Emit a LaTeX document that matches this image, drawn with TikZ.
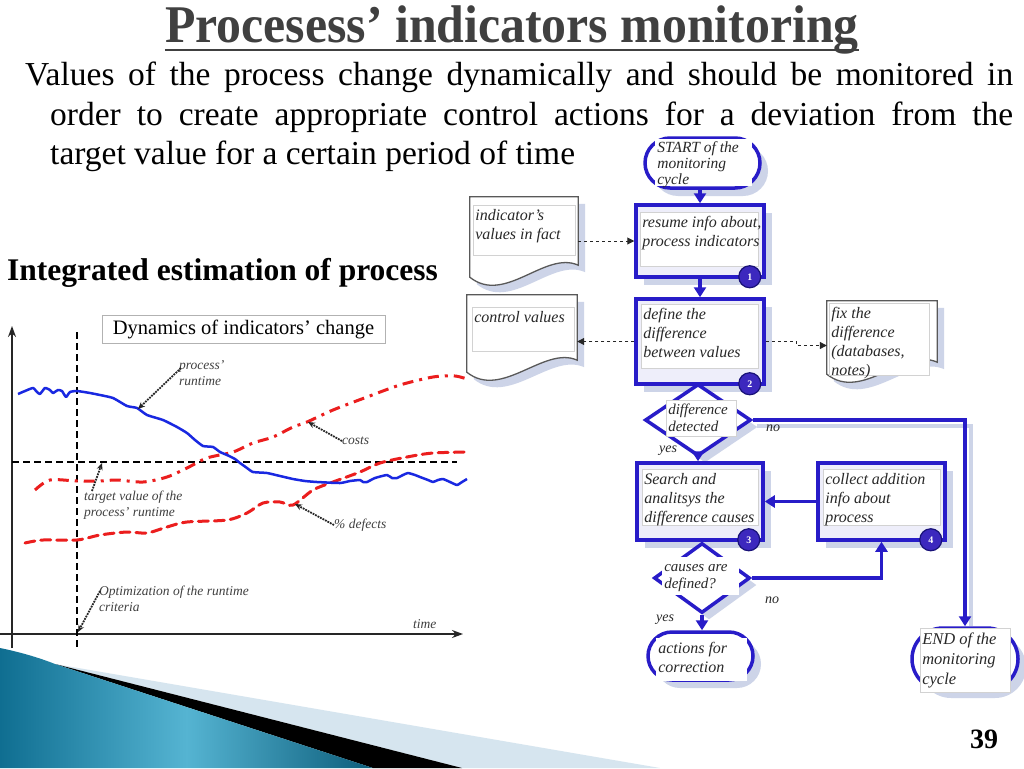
\documentclass[tikz,border=0pt]{standalone}
\usepackage{fontspec}
\setmainfont{Liberation Serif}
\usetikzlibrary{arrows.meta,calc,shapes.geometric,shapes.misc,shadows}
\definecolor{fblue}{RGB}{40,28,200}
\definecolor{shc}{RGB}{205,212,232}
\definecolor{lav}{RGB}{238,238,250}
\definecolor{ftext}{RGB}{40,40,40}
\definecolor{cblue}{RGB}{25,40,225}
\definecolor{cred}{RGB}{235,30,30}
\definecolor{teal1}{RGB}{15,110,145}
\definecolor{teal2}{RGB}{85,180,210}
\definecolor{lband}{RGB}{214,229,239}
\definecolor{titlegray}{RGB}{64,64,64}
\definecolor{badgeblue}{RGB}{60,40,190}
\newcommand\boxtxt[3]{\parbox[t][#2][t]{#1}{\begin{tabular}[t]{@{}l@{}}#3\end{tabular}}}
\newcommand\docshape[1]{%
 \fill[shc] ($(#1.north west)+(7,7)$) -- ($(#1.north east)+(7,7)$) -- ($(#1.south east)+(7,-5)$) .. controls ($(#1.south east)+(-26,-20)$) and ($(#1.south west)+(42,35)$) .. ($(#1.south west)+(7,7)$) -- cycle;
 \draw[docline] (#1.north west) -- (#1.north east) -- ($(#1.south east)+(0,-12)$) .. controls ($(#1.south east)+(-33,-27)$) and ($(#1.south west)+(35,28)$) .. (#1.south west) -- cycle;}
\begin{document}
\begin{tikzpicture}[x=1pt,y=-1pt,
  procbox/.style={draw=fblue, line width=3.5pt, fill=lav, inner sep=0,
     general shadow={fill=shc, draw=none, shadow xshift=8pt, shadow yshift=-8pt}},
  termbox/.style={rounded rectangle, draw=fblue, line width=3.5pt, fill=white, inner sep=0,
     general shadow={fill=shc, draw=none, shadow xshift=8pt, shadow yshift=-8pt}},
  decbox/.style={diamond, draw=fblue, line width=3.5pt, fill=white, inner sep=0,
     general shadow={fill=shc, draw=none, shadow xshift=7pt, shadow yshift=-7pt}},
  intext/.style={fill=white, draw=gray!35, line width=0.6pt, anchor=north west, inner sep=2pt,
     text=ftext, font=\fontsize{16}{19}\selectfont\itshape},
  docbox/.style={inner sep=0, draw=none},
  docline/.style={draw=gray!70!black, line width=1.3pt, fill=white},
  badge/.style={shape=circle, inner sep=0pt, minimum width=22pt, minimum height=22pt,
     fill=badgeblue, draw=fblue!60!black, line width=1.2pt,
     text=white, font=\fontsize{10}{10}\selectfont\bfseries},
  farrow/.style={draw=fblue, line width=3.5pt, -{Triangle[length=10pt,width=12pt]}},
  dasharrow/.style={draw=black!85, line width=1pt, dashed, -{Triangle[length=7pt,width=7pt]}},
  flab/.style={font=\fontsize{14}{16}\selectfont\itshape, text=ftext, inner sep=0},
  clab/.style={font=\fontsize{13.5}{16}\selectfont\itshape, text=black!75, inner sep=0, align=left},
  dotarrow/.style={densely dotted, line width=1.8pt, draw=black!85, -{Stealth[length=7pt,width=6pt]}},
  axisline/.style={line width=1.5pt, draw=black!85, -{Stealth[length=11pt,width=8pt]}},
  guide/.style={line width=1.3pt, draw=black, dash pattern=on 7pt off 4pt}
]
\useasboundingbox (0,0) rectangle (1024,768);
\fill[white] (0,0) rectangle (1024,768);

% ---------- title and text ----------
\node[anchor=base, inner sep=0, text=titlegray, font=\fontsize{53}{56}\selectfont\bfseries] (title) at (512,43)
  {\scalebox{0.94}[1]{Procesess’ indicators monitoring}};
\draw[titlegray, line width=2.5pt] ($(title.base west)+(0,7)$) -- ($(title.base east)+(0,7)$);
\node[anchor=base west, inner sep=0, font=\fontsize{33.5}{40}\selectfont] (l1) at (25,85)
  {\makebox[988pt][s]{Values of the process change dynamically and should be monitored in}};
\node[anchor=base west, inner sep=0, font=\fontsize{33.5}{40}\selectfont] (l2) at (50,125)
  {\makebox[963pt][s]{order to create appropriate control actions for a deviation from the}};
\node[anchor=base west, inner sep=0, font=\fontsize{33.5}{40}\selectfont] (l3) at (50,164)
  {target value for a certain period of time};
\node[anchor=base west, inner sep=0, font=\fontsize{31.5}{34}\selectfont\bfseries] (integ) at (7,280)
  {Integrated estimation of process};
\node[anchor=base, inner sep=0, font=\fontsize{28}{30}\selectfont\bfseries] (pagenum) at (984,748) {39};

% ---------- chart ----------
\node[draw=gray!60, line width=0.8pt, fill=white, minimum width=283pt, minimum height=28pt, inner sep=0,
      font=\fontsize{20.5}{22}\selectfont] (dyn) at (243.5,329) {Dynamics of indicators' change};
\coordinate (yb) at (12,648); \coordinate (yt) at (12,326);
\coordinate (xl) at (0,634);  \coordinate (xr) at (463,634);
\draw[axisline] (yb) -- (yt);
\draw[axisline] (xl) -- (xr);
\coordinate (vt) at (77,332); \coordinate (vb) at (77,648);
\draw[guide] (vt) -- (vb);
\coordinate (hl) at (12,462); \coordinate (hr) at (457,462);
\draw[guide] (hl) -- (hr);

\draw[cred, line width=3pt, dash pattern=on 10pt off 6pt, line cap=round] plot[smooth, tension=0.5] coordinates
 {(25,543) (43,540) (77,540) (100,535) (127,532) (147,533) (167,527) (187,522) (227,520) (247,513) (263,503) (280,502) (293,505) (313,490) (333,482) (360,472) (380,463) (407,457) (433,453) (470,452)};
\draw[cred, line width=3pt, dash pattern=on 11pt off 6pt on 3pt off 6pt] plot[smooth, tension=0.5] coordinates
 {(35,490) (50,480) (77,481) (100,481) (117,480) (143,482) (167,477) (187,468) (207,458) (233,452) (253,443) (273,437) (293,427) (307,422) (333,410) (367,397) (400,385) (433,377) (455,376) (470,380)};
\draw[cblue, line width=2.5pt, line join=round] plot[smooth, tension=0.3] coordinates
 {(18,394) (25,391) (33,388) (37,392) (40,394) (45,388) (50,390) (53,393) (58,390) (62,391) (66,397) (70,392) (77,391) (90,393) (100,395) (113,398) (127,406) (137,408) (147,415) (163,420) (177,427) (187,433) (195,440) (203,446) (213,447) (220,452) (227,455) (235,459) (240,463) (247,468) (253,472) (267,473) (280,476) (293,479) (305,481) (317,482) (340,483) (350,481) (360,480) (363,482) (367,482) (375,478) (387,475) (392,478) (397,478) (403,475) (408,473) (415,475) (420,477) (428,480) (433,482) (438,480) (443,479) (450,482) (457,485) (462,482) (467,479)};

\node[clab, anchor=north west] (lp) at (179,360) {process'\\runtime};
\coordinate (pr) at (138,409);
\draw[dotarrow] ($(lp.north west)+(2,8)$) -- (pr);
\node[clab, anchor=west] (lc) at (342,441) {costs};
\coordinate (pc) at (308,422);
\draw[dotarrow] (lc.west) -- (pc);
\node[clab, anchor=north west] (lt) at (84,491) {target value of the\\process' runtime};
\coordinate (pt) at (102,463);
\draw[dotarrow] ($(lt.north west)+(8,0)$) -- (pt);
\node[clab, anchor=west] (ld) at (334,525) {\% defects};
\coordinate (pd) at (295,504);
\draw[dotarrow] (ld.west) -- (pd);
\node[clab, anchor=north west] (lo) at (99,586) {Optimization of the runtime\\criteria};
\coordinate (po) at (78,632);
\draw[dotarrow] ($(lo.north west)+(1,5)$) -- (po);
\node[clab, anchor=base west] (ltime) at (413,628) {time};

% ---------- flowchart ----------
\node[termbox, minimum width=115pt, minimum height=50pt] (start) at (702.5,163) {};
\node[intext, font=\fontsize{15.5}{16}\selectfont\itshape, draw=white] (st) at (655,139) {\boxtxt{92pt}{42pt}{START of the\\monitoring\\cycle}};

\node[procbox, minimum width=128pt, minimum height=72pt] (b1) at (700,241) {};
\node[intext] (t1) at (640,212) {\boxtxt{114pt}{50pt}{resume info about,\\process indicators}};
\node[badge] (n1) at ($(b1.south east)+(-16,-2)$) {1};

\node[procbox, minimum width=128pt, minimum height=85pt] (b2) at (700,341.5) {};
\node[intext] (t2) at (641,304) {\boxtxt{113pt}{60pt}{define the\\difference\\between values}};
\node[badge] (n2) at ($(b2.south east)+(-16,-2)$) {2};

\node[decbox, minimum width=106pt, minimum height=72pt] (d1) at (698,420) {};
\node[intext, font=\fontsize{15}{17}\selectfont\itshape] (td1) at (666,400) {\boxtxt{66pt}{32pt}{difference\\detected}};

\node[procbox, minimum width=126pt, minimum height=77pt] (b3) at (700,501.5) {};
\node[intext] (t3) at (642,469) {\boxtxt{112pt}{52pt}{Search and\\analitsys the\\difference causes}};
\node[badge] (n3) at ($(b3.south east)+(-16,-2)$) {3};

\node[procbox, minimum width=127pt, minimum height=77pt] (b4) at (881.5,501.5) {};
\node[intext] (t4) at (823,469) {\boxtxt{113pt}{52pt}{collect addition\\info about\\process}};
\node[badge] (n4) at ($(b4.south east)+(-16,-2)$) {4};

\node[decbox, minimum width=96pt, minimum height=70pt] (d2) at (702,578) {};
\node[intext, font=\fontsize{15}{17}\selectfont\itshape, draw=white] (td2) at (662,557) {\boxtxt{72pt}{33pt}{causes are\\defined?}};

\node[termbox, minimum width=105pt, minimum height=48pt] (act) at (700.5,656) {};
\node[intext, draw=white] (ta) at (656,638) {\boxtxt{86pt}{38pt}{actions for\\correction}};

\node[termbox, minimum width=106pt, minimum height=62pt] (endt) at (965,659) {};
\node[intext, font=\fontsize{16.5}{20}\selectfont\itshape] (te) at (920,628) {\boxtxt{86pt}{60pt}{END of the\\monitoring\\cycle}};

% documents
\node[docbox, minimum width=108pt, minimum height=80pt] (doc1) at (524,237) {};
\docshape{doc1}
\node[intext] (dt1) at (473,205) {\boxtxt{98pt}{46pt}{indicator's\\values in fact}};
\node[docbox, minimum width=110pt, minimum height=77pt] (doc2) at (522,333.5) {};
\docshape{doc2}
\node[intext] (dt2) at (472,307) {\boxtxt{98pt}{40pt}{control values}};
\node[docbox, minimum width=110pt, minimum height=73pt] (doc3) at (882,337.5) {};
\docshape{doc3}
\node[intext] (dt3) at (829,303) {\boxtxt{96pt}{68pt}{fix the\\difference\\(databases,\\notes)}};

% connectors
\draw[farrow] (start.south -| b1.north) -- (b1.north);
\draw[farrow] (b1.south) -- (b2.north);
\draw[farrow] (d1.south) -- (d1.south |- b3.north);
\draw[shc, line width=4pt] ($(d1.east)+(4,6)$) -- ($(d1.east -| endt.north)+(6,6)$) -- ($(endt.north)+(6,0)$);
\draw[farrow] (d1.east) -- (d1.east -| endt.north) -- (endt.north);
\draw[farrow] (b4.west) -- (b3.east);
\draw[farrow] (d2.east) -| (b4.south);
\draw[farrow] (d2.south) -- (d2.south |- act.north);
\draw[dasharrow] (doc1.east |- b1.west) -- (b1.west);
\draw[dasharrow] (b2.west) -- (b2.west -| doc2.east);
\draw[dasharrow] (b2.east) -- ++(31,0) -- ++(0,4) coordinate (bend) -- (bend -| doc3.west);

\node[flab] (no1) at (773,428) {no};
\node[flab] (yes1) at (668,451) {yes};
\node[flab] (no2) at (772,600) {no};
\node[flab] (yes2) at (665,620) {yes};

% ---------- bottom decoration ----------
\fill[lband] (55,664) -- (660,768) -- (462,768) -- cycle;
\fill[black] (55,664) -- (462,768) -- (373,768) -- cycle;
\shade[left color=teal1, right color=teal1!85!black, middle color=teal2]
  (0,648) .. controls (20,652) and (40,658) .. (55,664) -- (373,768) -- (0,768) -- cycle;
\end{tikzpicture}
\end{document}
